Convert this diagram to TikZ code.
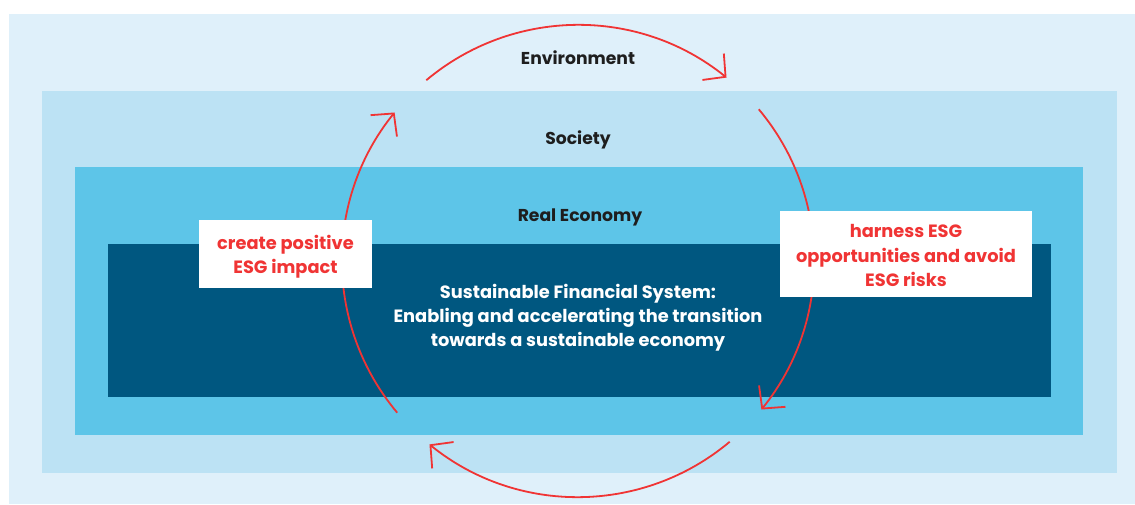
\documentclass[tikz,border=0pt]{standalone}
\usepackage{fontspec}
\setmainfont{Poppins}
\usetikzlibrary{arrows.meta,calc}
\definecolor{envc}{RGB}{223,240,250}
\definecolor{socc}{RGB}{188,226,244}
\definecolor{ecoc}{RGB}{93,197,232}
\definecolor{finc}{RGB}{0,87,128}
\definecolor{redc}{RGB}{240,52,52}
\definecolor{txtc}{RGB}{30,30,30}
\tikzset{
  lbl/.style={font=\fontsize{17.2}{22}\selectfont\bfseries, text=txtc, inner sep=0pt},
  fintxt/.style={font=\fontsize{17.8}{24}\selectfont\bfseries, text=white, align=center, inner sep=0pt},
  redtxt/.style={font=\fontsize{17.8}{24.5}\selectfont\bfseries, text=redc, align=center, inner sep=0pt},
  cyc/.style={draw=redc, line width=1.8pt, -{Straight Barb[length=16pt,width=34pt]}},
}
\begin{document}
\begin{tikzpicture}[x=1pt,y=1pt]
\useasboundingbox (0,0) rectangle (1135,504);
\fill[white] (0,0) rectangle (1135,504);
\fill[envc] (9,0) rectangle (1135,490);
\fill[socc] (42,31) rectangle (1117,413);
\fill[ecoc] (75,69) rectangle (1083,337);
\fill[finc] (108,107) rectangle (1051,260);
\node[lbl] (env) at (578,446) {Environment};
\node[lbl] (soc) at (578,364) {Society};
\node[lbl] (eco) at (580,287) {Real Economy};
\node[fintxt] (fin) at (578,186) {Sustainable Financial System:\\Enabling and accelerating the transition\\towards a sustainable economy};
\coordinate (c) at (578,243);
\draw[cyc] ($(c)+(130:236)$) arc[start angle=130, end angle=51, radius=236];
\draw[cyc] ($(c)+(40:236)$) arc[start angle=40, end angle=-39, radius=236];
\draw[cyc] ($(c)+(-50:236)$) arc[start angle=-50, end angle=-129, radius=236];
\draw[cyc] ($(c)+(220:236)$) arc[start angle=220, end angle=141, radius=236];
\fill[white] (199,216) rectangle (372,284);
\node[redtxt] (impact) at (285.5,247.5) {create positive\\ESG impact};
\fill[white] (780,207) rectangle (1032,293);
\node[redtxt] (harness) at (906,248.5) {harness ESG\\opportunities and avoid\\ESG risks};
\end{tikzpicture}
\end{document}
